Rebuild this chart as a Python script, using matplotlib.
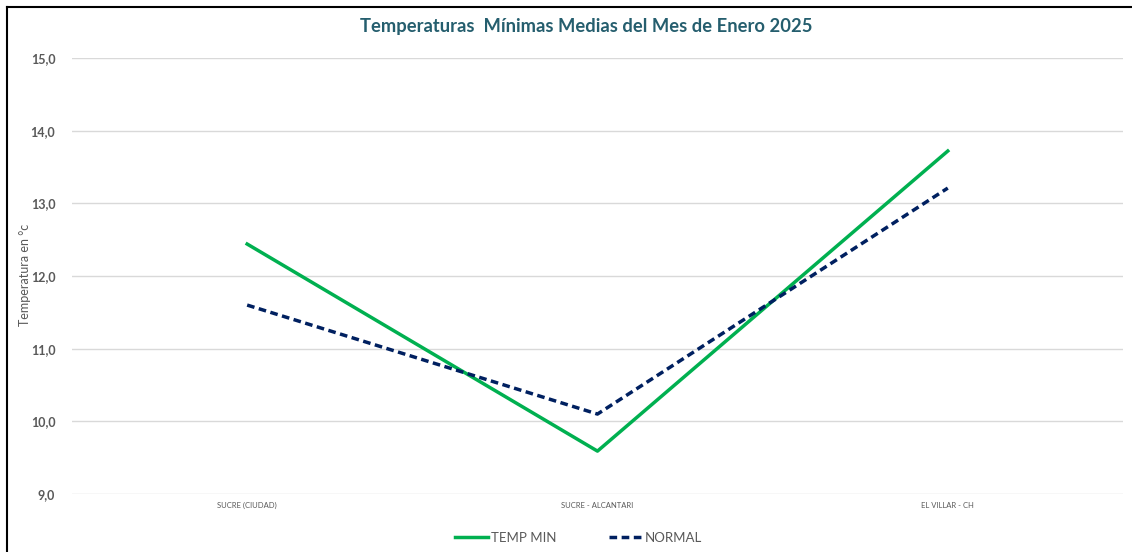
import matplotlib.pyplot as plt
from matplotlib.lines import Line2D
from matplotlib.ticker import FuncFormatter

# Datos
estaciones = ["SUCRE (CIUDAD)", "SUCRE - ALCANTARI", "EL VILLAR - CH"]
temp_min = [12.44, 9.59, 13.72]
normal = [11.60, 10.10, 13.21]

plt.rcParams["font.family"] = ["Lato", "DejaVu Sans"]

fig = plt.figure(figsize=(11.32, 5.52), dpi=100)
ax = fig.add_axes([0.0636, 0.1051, 0.9284, 0.7898])

x = range(len(estaciones))
ax.plot(x, temp_min, color="#00B050", lw=2.5, label="TEMP MIN")
ax.plot(x, normal, color="#002060", lw=2.5, ls=(0, (2.2, 1.3)), label="NORMAL")

ax.set_xlim(-0.5, 2.5)
ax.set_ylim(9, 15)
ax.set_yticks([9, 10, 11, 12, 13, 14, 15])
ax.yaxis.set_major_formatter(FuncFormatter(lambda v, p: f"{v:.1f}".replace(".", ",")))
ax.set_xticks(list(x))
ax.set_xticklabels(estaciones, fontsize=5.5, color="#595959")
ax.tick_params(axis="y", labelsize=9, labelcolor="#595959", length=0, pad=12)
ax.tick_params(axis="x", length=0, pad=6)
for lbl in ax.get_yticklabels():
    lbl.set_fontweight("bold")

ax.grid(axis="y", color="#D9D9D9", lw=1)
ax.set_axisbelow(True)
for s in ax.spines.values():
    s.set_visible(False)

fig.text(0.0225, 0.502, "Temperatura en °c", rotation=90, fontsize=9,
         color="#595959", ha="center", va="center")

fig.suptitle("Temperaturas  Mínimas Medias del Mes de Enero 2025", x=0.518, y=0.967,
             fontsize=13.2, fontweight="bold", color="#255E6E")

ax.legend(loc="upper center", bbox_to_anchor=(0.482, -0.06), ncol=2, frameon=False,
          fontsize=9.5, labelcolor="#595959", handlelength=2.5, handletextpad=0.2,
          columnspacing=4.0)

# borde del grafico
fig.add_artist(Line2D([0.0062, 0.0062], [0, 0.988], color="black", lw=1.5))
fig.add_artist(Line2D([0.0062, 1], [0.988, 0.988], color="black", lw=1.5))

fig.savefig("out.png", dpi=100)
